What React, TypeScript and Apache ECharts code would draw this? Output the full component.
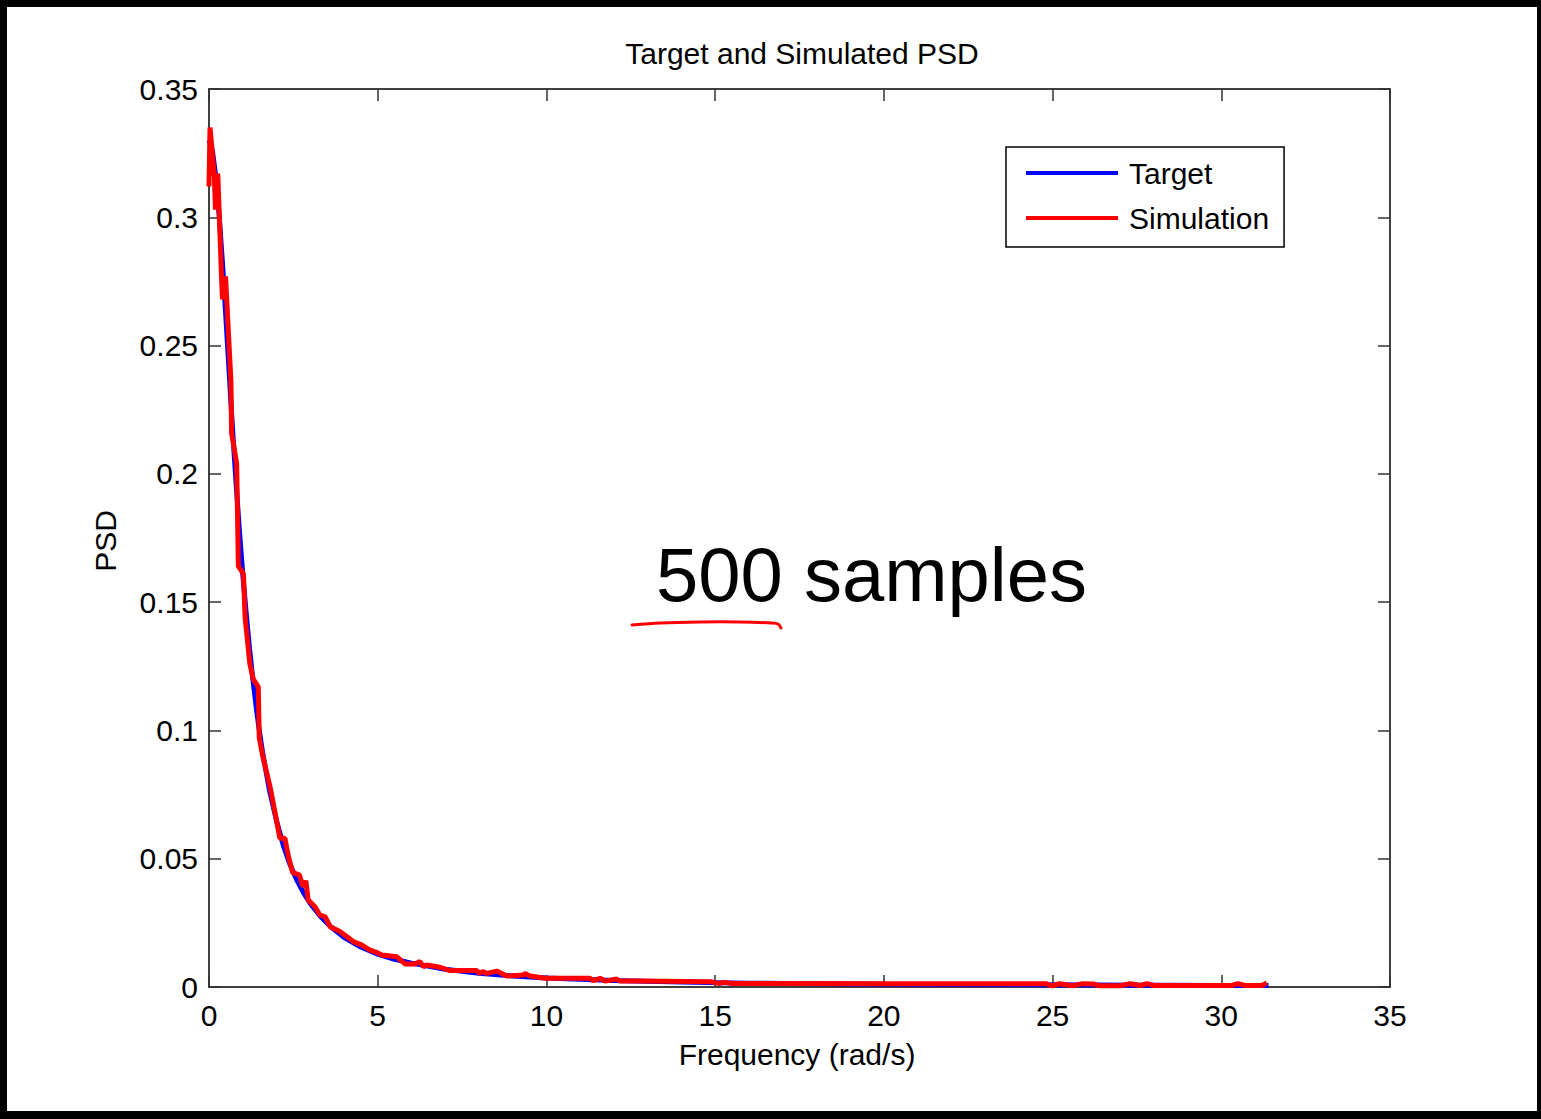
import React, { useEffect, useRef } from "react";
import * as echarts from "echarts";

// Tick values
const xTicks = [0, 5, 10, 15, 20, 25, 30, 35];
const yTicks = [0, 0.05, 0.1, 0.15, 0.2, 0.25, 0.3, 0.35];

// Target PSD (frequency rad/s, PSD)
const targetFreq = [0, 0.1, 0.2, 0.3, 0.4, 0.5, 0.6, 0.7, 0.8, 0.9, 1.0, 1.1, 1.2, 1.3, 1.4, 1.5, 1.6, 1.8, 2.0, 2.2, 2.4, 2.6, 2.8, 3.0, 3.3, 3.6, 4.0, 4.5, 5.0, 5.5, 6.0, 7.0, 8.0, 9.0, 10, 12, 14, 16, 18, 20, 22, 24, 26, 28, 30, 31.4];
const targetPsd = [0.330, 0.326, 0.316, 0.301, 0.282, 0.261, 0.239, 0.217, 0.197, 0.178, 0.161, 0.146, 0.132, 0.120, 0.109, 0.099, 0.0905, 0.0762, 0.0648, 0.0553, 0.0478, 0.0418, 0.0368, 0.0326, 0.0276, 0.0236, 0.0194, 0.0156, 0.0128, 0.0108, 0.0093, 0.0069, 0.0054, 0.0043, 0.0035, 0.0025, 0.0019, 0.0015, 0.0013, 0.0011, 0.0010, 0.0009, 0.0008, 0.0007, 0.0006, 0.0006];

// Simulated PSD (frequency rad/s, PSD)
const simFreq = [0, 0.03, 0.16, 0.19, 0.26, 0.37, 0.40, 0.49, 0.65, 0.67, 0.82, 0.87, 1.02, 1.07, 1.21, 1.31, 1.46, 1.49, 1.61, 1.81, 2.0, 2.10, 2.25, 2.35, 2.48, 2.68, 2.78, 2.87, 2.94, 3.14, 3.29, 3.44, 3.59, 3.88, 4.28, 4.52, 4.77, 4.97, 5.12, 5.56, 5.81, 6.10, 6.25, 6.35, 6.45, 6.85, 7.14, 7.93, 8.01, 8.11, 8.23, 8.53, 8.82, 9.32, 9.36, 9.51, 9.96, 11.29, 11.39, 11.59, 11.74, 12.08, 12.18, 12.77, 14.9, 15.1, 15.3, 15.5, 20, 24.8, 25.0, 25.2, 25.6, 25.9, 26.2, 26.4, 27.0, 27.3, 27.6, 27.8, 28.0, 30.3, 30.5, 30.7, 31.2, 31.35];
const simPsd = [0.312, 0.335, 0.316, 0.303, 0.317, 0.277, 0.268, 0.277, 0.236, 0.216, 0.204, 0.164, 0.161, 0.144, 0.126, 0.120, 0.117, 0.097, 0.089, 0.078, 0.065, 0.058, 0.058, 0.051, 0.0446, 0.0437, 0.0391, 0.0414, 0.0339, 0.0313, 0.028, 0.0274, 0.0235, 0.0216, 0.0177, 0.0164, 0.0144, 0.0135, 0.0125, 0.0118, 0.009, 0.009, 0.0099, 0.0079, 0.0086, 0.0077, 0.0064, 0.0064, 0.0053, 0.006, 0.0053, 0.0062, 0.0043, 0.0047, 0.0053, 0.0043, 0.0034, 0.0034, 0.0025, 0.0034, 0.0023, 0.0031, 0.0023, 0.0023, 0.002, 0.0014, 0.0018, 0.0014, 0.0013, 0.0013, 0.0004, 0.0013, 0.0005, 0.0013, 0.0012, 0.0005, 0.0005, 0.0013, 0.0006, 0.0013, 0.0006, 0.0006, 0.0013, 0.0006, 0.0006, 0.0016];

const FONT = "Liberation Sans, Arial, Helvetica, sans-serif";

export default function App() {
  const ref = useRef<HTMLDivElement>(null);

  useEffect(() => {
    document.body.style.margin = "0";
    if (!ref.current) return;
    const chart = echarts.init(ref.current, null, { renderer: "svg" });

    const axisCommon = {
      type: "value" as const,
      splitLine: { show: false },
      axisLine: { show: true, onZero: false, lineStyle: { color: "#000", width: 1.5 } },
      axisTick: { show: true, inside: true, length: 12, lineStyle: { color: "#333", width: 1.5 } },
    };

    chart.setOption({
      animation: false,
      backgroundColor: "#fff",
      textStyle: { fontFamily: FONT },
      title: {
        text: "Target and Simulated PSD",
        left: 797,
        top: 33,
        textAlign: "center",
        textStyle: { fontFamily: FONT, fontSize: 30, fontWeight: "normal", color: "#000" },
      },
      legend: {
        orient: "vertical",
        left: 1006,
        top: 147,
        padding: [11, 15, 14, 20],
        itemGap: 15,
        itemWidth: 92,
        itemHeight: 4,
        icon: "rect",
        backgroundColor: "#fff",
        borderColor: "#000",
        borderWidth: 1.5,
        borderRadius: 0,
        textStyle: { fontFamily: FONT, fontSize: 30, color: "#000", padding: [0, 0, 0, 6] },
        data: ["Target", "Simulation"],
      },
      grid: { left: 209, top: 89, width: 1181, height: 898 },
      xAxis: [
        {
          ...axisCommon,
          position: "bottom",
          min: xTicks[0],
          max: xTicks[xTicks.length - 1],
          interval: 5,
          axisLabel: { show: true, margin: 13, fontSize: 30, color: "#000", fontFamily: FONT },
        },
        {
          ...axisCommon,
          position: "top",
          min: xTicks[0],
          max: xTicks[xTicks.length - 1],
          interval: 5,
          axisLabel: { show: false },
        },
      ],
      yAxis: [
        {
          ...axisCommon,
          position: "left",
          min: yTicks[0],
          max: yTicks[yTicks.length - 1],
          interval: 0.05,
          axisLabel: { show: true, margin: 11, fontSize: 30, color: "#000", fontFamily: FONT },
        },
        {
          ...axisCommon,
          position: "right",
          min: yTicks[0],
          max: yTicks[yTicks.length - 1],
          interval: 0.05,
          axisLabel: { show: false },
        },
      ],
      series: [
        {
          name: "Target",
          type: "line",
          showSymbol: false,
          color: "#0000ff",
          lineStyle: { color: "#0000ff", width: 5 },
          data: targetFreq.map((f, i) => [f, targetPsd[i]]),
          z: 2,
        },
        {
          name: "Simulation",
          type: "line",
          showSymbol: false,
          color: "#ff0000",
          lineStyle: { color: "#ff0000", width: 5 },
          data: simFreq.map((f, i) => [f, simPsd[i]]),
          z: 3,
        },
      ],
      graphic: [
        { type: "rect", shape: { x: 0, y: 0, width: 1541, height: 7 }, style: { fill: "#000" }, z: 100 },
        { type: "rect", shape: { x: 0, y: 0, width: 7, height: 1119 }, style: { fill: "#000" }, z: 100 },
        { type: "rect", shape: { x: 1537, y: 0, width: 4, height: 1119 }, style: { fill: "#000" }, z: 100 },
        { type: "rect", shape: { x: 0, y: 1111, width: 1541, height: 8 }, style: { fill: "#000" }, z: 100 },
        {
          type: "text",
          x: 797,
          y: 1054,
          style: { text: "Frequency (rad/s)", fontFamily: FONT, fontSize: 30, fill: "#000", align: "center", verticalAlign: "middle" },
        },
        {
          type: "text",
          x: 105,
          y: 541,
          rotation: Math.PI / 2,
          style: { text: "PSD", fontFamily: FONT, fontSize: 30, fill: "#000", align: "center", verticalAlign: "middle" },
        },
        {
          type: "text",
          x: 656,
          y: 574,
          style: { text: "500 samples", fontFamily: FONT, fontSize: 76, fill: "#000", align: "left", verticalAlign: "middle" },
        },
        {
          type: "polyline",
          shape: {
            points: [[632, 625], [660, 623], [700, 622], [740, 622], [772, 623], [778, 624], [781, 628]],
            smooth: 0.3,
          },
          style: { stroke: "#ff0000", lineWidth: 3, fill: "none", lineCap: "round" },
        },
      ],
    });

    return () => chart.dispose();
  }, []);

  return (
    <div
      ref={ref}
      style={{ position: "fixed", left: 0, top: 0, width: 1541, height: 1119, background: "#fff" }}
    />
  );
}
